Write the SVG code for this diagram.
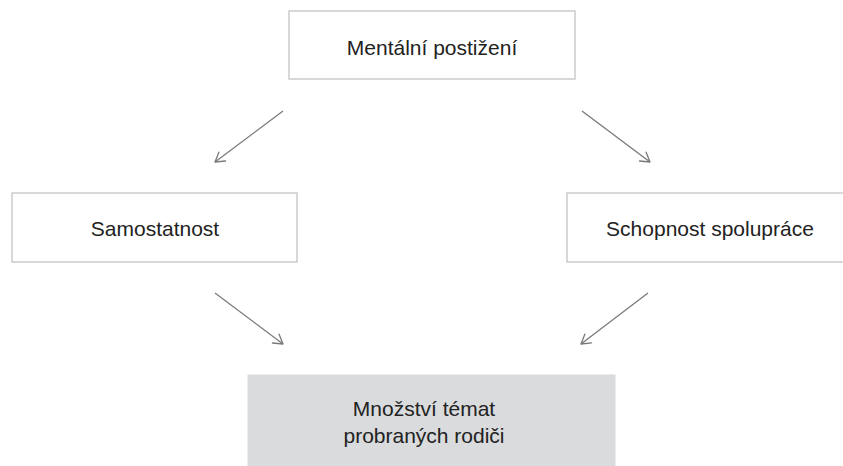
<svg xmlns="http://www.w3.org/2000/svg" width="843" height="466" viewBox="0 0 843 466">
  <style>
    .box { fill: #ffffff; stroke: #c4c4c4; stroke-width: 1.3; }
    .box-grey { fill: #d9dbdc; stroke: #d9dbdc; stroke-width: 1; }
    .label { font-family: "Liberation Sans", Arial, sans-serif; font-size: 21px; fill: #222222; text-anchor: middle; }
    .conn { stroke: #7a7a7a; stroke-width: 1.3; fill: none; marker-end: url(#arrow); }
  </style>
  <defs>
    <marker id="arrow" markerUnits="userSpaceOnUse" markerWidth="14" markerHeight="14" viewBox="0 0 14 14" refX="12" refY="7" orient="auto">
      <path d="M3,1.5 L12,7 L3,12.5" fill="none" stroke="#7a7a7a" stroke-width="1.3" stroke-linecap="round" stroke-linejoin="round"/>
    </marker>
  </defs>
  <rect width="843" height="466" fill="#ffffff"/>

  <g id="node-mentalni">
    <rect class="box" x="289" y="11" width="286" height="68"/>
    <text class="label" x="432" y="55">Mentální postižení</text>
  </g>

  <g id="node-samostatnost">
    <rect class="box" x="12" y="193" width="285" height="69"/>
    <text class="label" x="155" y="236">Samostatnost</text>
  </g>

  <g id="node-spoluprace">
    <rect class="box" x="567" y="193" width="290" height="69"/>
    <text class="label" x="710" y="236">Schopnost spolupráce</text>
  </g>

  <g id="node-mnozstvi">
    <rect class="box-grey" x="248" y="375" width="367" height="100"/>
    <text class="label" x="424" y="416">Množství témat</text>
    <text class="label" x="424" y="443">probraných rodiči</text>
  </g>

  <g id="connectors">
    <line class="conn" x1="283" y1="111" x2="215" y2="162"/>
    <line class="conn" x1="582" y1="111" x2="650" y2="162"/>
    <line class="conn" x1="215" y1="293" x2="283" y2="344"/>
    <line class="conn" x1="648" y1="293" x2="581" y2="344"/>
  </g>
</svg>
